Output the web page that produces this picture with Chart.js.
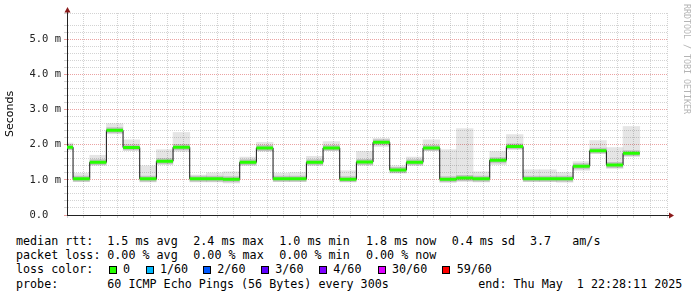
<!DOCTYPE html>
<html>
<head>
<meta charset="utf-8">
<script src="https://cdn.jsdelivr.net/npm/chart.js@4/dist/chart.umd.min.js"></script>
<style>
  body { margin: 0; background: #fff; width: 697px; height: 297px; overflow: hidden; position: relative; font-family: 'DejaVu Sans Mono', monospace; }
  #wrap { position: absolute; left: 0; top: 0; width: 697px; height: 232px; }
  .t { position: absolute; white-space: pre; font-size: 11.7px; line-height: 14px; color: #000; }
  .box { position: absolute; width: 6px; height: 6px; border: 1px solid #000; }
  #credit { position: absolute; left: 682px; top: 4px; writing-mode: vertical-rl; font-size: 8.3px; color: #b4b4b4; font-family: 'DejaVu Sans Mono', monospace; }
</style>
</head>
<body>
<div id="wrap"><canvas id="c" width="697" height="232"></canvas></div>
<div id="credit">RRDTOOL / TOBI OETIKER</div>
<div id="legend"></div>
<script>
// data: 5 minute bins, labelled by their end time
const binEnds = ['19:30','19:35','19:40','19:45','19:50','19:55','20:00','20:05','20:10','20:15','20:20','20:25',
  '20:30','20:35','20:40','20:45','20:50','20:55','21:00','21:05','21:10','21:15','21:20','21:25',
  '21:30','21:35','21:40','21:45','21:50','21:55','22:00','22:05','22:10','22:15','22:20'];
// median rtt (ms)
const medianRtt = [1.93,1.03,1.50,2.41,1.92,1.03,1.53,1.93,1.03,1.03,1.02,1.50,
  1.91,1.03,1.03,1.50,1.91,1.02,1.51,2.07,1.28,1.50,1.91,1.02,
  1.05,1.03,1.56,1.95,1.03,1.03,1.03,1.39,1.83,1.42,1.76];
// smoke (spread of the 60 pings, ms)
const smokeHi = [2.05,1.19,1.70,2.60,2.14,1.40,1.86,2.35,1.14,1.20,1.23,1.65,
  2.07,1.19,1.21,1.67,2.09,1.26,1.81,2.18,1.40,1.65,2.14,1.86,
  2.46,1.23,1.81,2.29,1.29,1.29,1.21,1.52,2.12,1.92,2.52];
const smokeLo = [1.86,0.95,1.42,2.31,1.84,0.94,1.43,1.81,0.94,0.94,0.91,1.41,
  1.81,0.95,0.95,1.41,1.84,0.95,1.41,1.95,1.19,1.41,1.84,0.93,
  0.95,0.94,1.43,1.88,0.95,0.95,0.93,1.27,1.76,1.32,1.67];
const xTickLabels = ['19:40','20:00','20:20','20:40','21:00','21:20','21:40','22:00','22:20'];
const yTickLabels = ['0.0  ','1.0 m','2.0 m','3.0 m','4.0 m','5.0 m'];
const lossLabels = ['0','1/60','2/60','3/60','4/60','30/60','59/60'];
const lossColors = ['#26ff00','#00b8ff','#0059ff','#5e00ff','#7e00ff','#dd00ff','#ff0000'];

const toMin = (s) => { const [h, m] = s.split(':').map(Number); return h * 60 + m; };
const X_MIN = toMin('19:28') + 11 / 60;
const X_MAX = toMin('22:28') + 11 / 60;
const ends = binEnds.map(toMin);

// 1. datasets built from the arrays
const smokeData = ends.map((e, i) => ({ x: e - 2.5, y: [smokeLo[i], smokeHi[i]] }));
const stepData = ends.map((e, i) => ({ x: e - 5, y: medianRtt[i] }))
  .concat([{ x: ends[ends.length - 1], y: medianRtt[medianRtt.length - 1] }]);
const flatData = [];
ends.forEach((e, i) => {
  flatData.push({ x: e - 5, y: medianRtt[i] }, { x: e, y: medianRtt[i] }, { x: e, y: null });
});

const MAJOR = 'rgba(215,70,70,0.5)';
const MINOR = 'rgba(150,150,150,0.42)';
const isInt = (v) => Math.abs(v - Math.round(v)) < 1e-6;

// 2. axis arrows
const arrows = {
  id: 'arrows',
  afterDraw(chart) {
    const { ctx, chartArea: a } = chart;
    ctx.save();
    ctx.strokeStyle = '#222';
    ctx.lineWidth = 1;
    ctx.beginPath();
    ctx.moveTo(a.right, Math.round(a.bottom) + 0.5);
    ctx.lineTo(a.right + 3, Math.round(a.bottom) + 0.5);
    ctx.moveTo(Math.round(a.left) + 0.5, a.top);
    ctx.lineTo(Math.round(a.left) + 0.5, a.top - 3);
    ctx.stroke();
    ctx.fillStyle = '#8b1a1a';
    ctx.beginPath();
    ctx.moveTo(a.right + 7, a.bottom + 0.5);
    ctx.lineTo(a.right + 2, a.bottom - 2.5);
    ctx.lineTo(a.right + 2, a.bottom + 3.5);
    ctx.closePath();
    ctx.fill();
    ctx.beginPath();
    ctx.moveTo(a.left + 0.5, a.top - 6);
    ctx.lineTo(a.left - 2.5, a.top - 0.5);
    ctx.lineTo(a.left + 3.5, a.top - 0.5);
    ctx.closePath();
    ctx.fill();
    ctx.restore();
  }
};

const tickFont = { family: 'DejaVu Sans Mono', size: 10.5 };

new Chart(document.getElementById('c'), {
  type: 'bar',
  data: {
    datasets: [
      { type: 'line', data: flatData, borderColor: '#26ff00', borderWidth: 3, borderCapStyle: 'butt',
        pointRadius: 0, spanGaps: false, order: 1, clip: 0 },
      { type: 'line', data: stepData, borderColor: '#111', borderWidth: 1, stepped: true,
        pointRadius: 0, order: 2, clip: 0 },
      { type: 'line', data: flatData, borderColor: 'rgba(0,0,0,0.16)', borderWidth: 6, borderCapStyle: 'butt',
        pointRadius: 0, spanGaps: false, order: 3, clip: 0 },
      { type: 'bar', data: smokeData, backgroundColor: 'rgba(0,0,0,0.1)', borderWidth: 0,
        barPercentage: 1, categoryPercentage: 1, grouped: false, order: 4, clip: 0 }
    ]
  },
  options: {
    responsive: false,
    animation: false,
    layout: { padding: { top: 13, right: 30, left: 0, bottom: 0 } },
    plugins: { legend: { display: false }, tooltip: { enabled: false } },
    scales: {
      x: {
        type: 'linear', min: X_MIN, max: X_MAX, offset: false,
        afterFit: (s) => { s.height = 17; },
        ticks: {
          stepSize: 5, includeBounds: false, autoSkip: false, maxRotation: 0, padding: 0,
          font: tickFont, color: '#222',
          callback: (v) => (v % 20 === 0 ? (xTickLabels.find((l) => toMin(l) === v) || '') : '')
        },
        grid: { offset: false, tickLength: 3, color: (c) => (c.tick && c.tick.value % 20 === 0 ? MAJOR : MINOR) },
        border: { color: '#222', width: 1, dash: [1, 1] }
      },
      y: {
        min: 0, max: 5.75,
        afterFit: (s) => { s.width = 67; },
        ticks: {
          stepSize: 0.2, autoSkip: false, padding: 3, font: tickFont, color: '#222',
          callback: (v) => (isInt(v) ? (yTickLabels[Math.round(v)] || '') : '')
        },
        grid: { tickLength: 3, color: (c) => (c.tick && isInt(c.tick.value) ? MAJOR : MINOR) },
        border: { color: '#222', width: 1, dash: [1, 1] },
        title: { display: true, text: 'Seconds', color: '#000', font: { family: 'DejaVu Sans', size: 11 } }
      }
    }
  },
  plugins: [arrows]
});

// 3. text legend below the graph
const legend = document.getElementById('legend');
const addText = (x, y, s) => {
  const d = document.createElement('div');
  d.className = 't';
  d.style.left = x + 'px';
  d.style.top = y + 'px';
  d.textContent = s;
  legend.appendChild(d);
};
const rows = [
  [234.3, [[16, 'median rtt:'], [107.3, '1.5 ms avg'], [193.3, '2.4 ms max'], [279.3, '1.0 ms min'],
    [366, '1.8 ms now'], [451.7, '0.4 ms sd'], [530, '3.7'], [572.3, 'am/s']]],
  [248.3, [[16, 'packet loss:'], [107.3, '0.00 % avg'], [193.3, '0.00 % max'], [279.3, '0.00 % min'], [366, '0.00 % now']]],
  [262.3, [[16, 'loss color:']]],
  [276.7, [[16, 'probe:'], [107.3, '60 ICMP Echo Pings (56 Bytes) every 300s'], [478.3, 'end: Thu May  1 22:28:11 2025']]]
];
rows.forEach(([y, parts]) => parts.forEach(([x, s]) => addText(x, y, s)));
const boxX = [108.7, 145.7, 203.3, 261, 319, 377.7, 441.7];
const lblX = [123, 160, 217.3, 275.3, 333.3, 392, 456.7];
lossLabels.forEach((l, i) => {
  const b = document.createElement('div');
  b.className = 'box';
  b.style.left = boxX[i] + 'px';
  b.style.top = '265.5px';
  b.style.background = lossColors[i];
  legend.appendChild(b);
  addText(lblX[i], 262.3, l);
});
</script>
</body>
</html>
